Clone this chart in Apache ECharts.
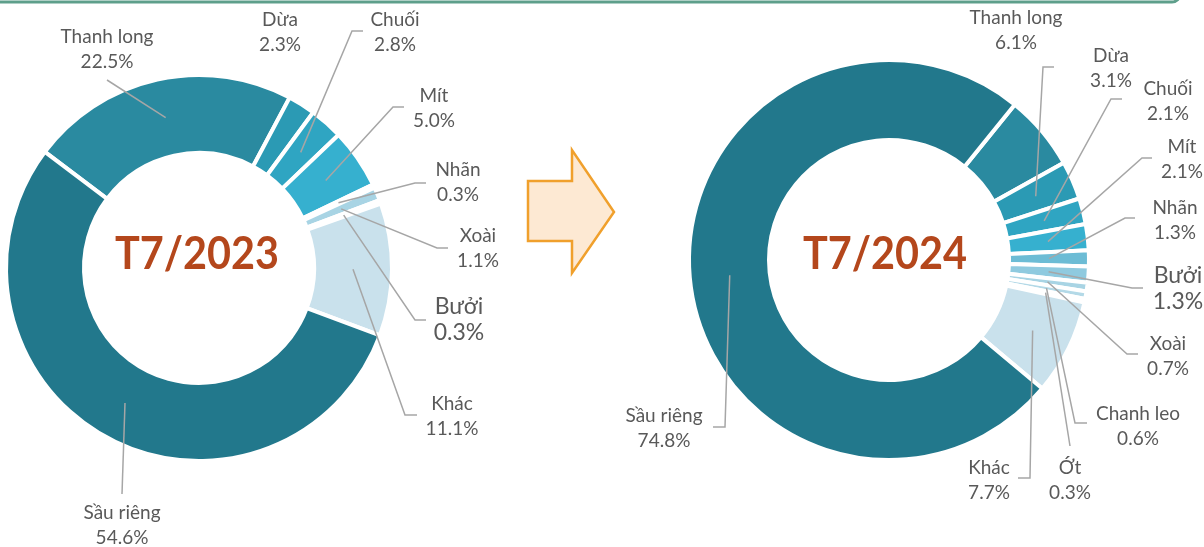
<!DOCTYPE html>
<html>
<head>
<meta charset="utf-8">
<script src="https://cdn.jsdelivr.net/npm/echarts@6/dist/echarts.min.js"></script>
<style>
  html, body { margin: 0; padding: 0; background: #ffffff; }
  #chart { width: 1204px; height: 547px; }
</style>
</head>
<body>
<div id="chart"></div>
<script>
// data
const periods = ['T7/2023', 'T7/2024'];
const names2023 = ['Thanh long', 'Dừa', 'Chuối', 'Mít', 'Nhãn', 'Xoài', 'Bưởi', 'Khác', 'Sầu riêng'];
const values2023 = [22.5, 2.3, 2.8, 5.0, 0.3, 1.1, 0.3, 11.1, 54.6];
const names2024 = ['Thanh long', 'Dừa', 'Chuối', 'Mít', 'Nhãn', 'Bưởi', 'Xoài', 'Chanh leo', 'Ớt', 'Khác', 'Sầu riêng'];
const values2024 = [6.1, 3.1, 2.1, 2.1, 1.3, 1.3, 0.7, 0.6, 0.3, 7.7, 74.8];

// colours per fruit
const colors = {
  'Sầu riêng': '#22788c',
  'Thanh long': '#2a8aa0',
  'Dừa': '#2b9ab4',
  'Chuối': '#2fa5c2',
  'Mít': '#36b0cf',
  'Nhãn': '#6cbcd5',
  'Bưởi': '#8fcadf',
  'Xoài': '#a8d4e4',
  'Chanh leo': '#b3d9e7',
  'Ớt': '#bddeea',
  'Khác': '#c9e1ec'
};

// donut geometry (radius padded by half the white border)
const geo = [
  { center: [199, 268], r0: 115, r: 193, start: -217 },
  { center: [889, 260], r0: 120, r: 200, start: 51 }
];

// label placement: centre of the text block, and the leader's bend / end
const labelPos = [
  {
    'Thanh long': { at: [107, 49], line: [[107, 80]] },
    'Dừa': { at: [280, 32] },
    'Chuối': { at: [395, 32], line: [[352, 31], [363, 31]] },
    'Mít': { at: [434, 108], line: [[393, 107], [404, 107]] },
    'Nhãn': { at: [458, 182], line: [[415, 183], [426, 183]] },
    'Xoài': { at: [478, 248], line: [[437, 248], [448, 248]] },
    'Bưởi': { at: [459, 320], line: [[415, 320], [426, 320]], big: true },
    'Khác': { at: [452, 416], line: [[405, 415], [417, 415]] },
    'Sầu riêng': { at: [122, 525], line: [[122, 494]] }
  },
  {
    'Thanh long': { at: [1016, 30] },
    'Dừa': { at: [1111, 68], line: [[1043, 67], [1054, 67]] },
    'Chuối': { at: [1168, 101], line: [[1111, 99], [1122, 99]] },
    'Mít': { at: [1182, 159], line: [[1142, 158], [1152, 158]] },
    'Nhãn': { at: [1175, 220], line: [[1125, 218], [1135, 218]] },
    'Bưởi': { at: [1178, 289], line: [[1132, 288], [1143, 288]], big: true },
    'Xoài': { at: [1168, 356], line: [[1127, 354], [1138, 354]] },
    'Chanh leo': { at: [1138, 426], line: [[1075, 423], [1087, 423]] },
    'Ớt': { at: [1070, 480], line: [[1070, 446]] },
    'Khác': { at: [989, 480], line: [[1030, 478], [1018, 478]] },
    'Sầu riêng': { at: [664, 428], line: [[725, 427], [713, 427]] }
  }
];

let chart;

// the coloured ring
function donut(names, values, g) {
  return {
    type: 'pie',
    z: 2,
    center: g.center,
    radius: [g.r0, g.r],
    startAngle: g.start,
    clockwise: true,
    silent: true,
    emphasis: { disabled: true },
    itemStyle: { borderColor: '#ffffff', borderWidth: 4 },
    label: { show: false },
    labelLine: { show: false },
    data: names.map(function (n, i) {
      return { name: n, value: values[i], itemStyle: { color: colors[n] } };
    })
  };
}

// same ring, see-through, drawn on top: carries labels and leader lines
function labels(names, values, g, pos) {
  return {
    type: 'pie',
    z: 5,
    center: g.center,
    radius: [g.r0, g.r],
    startAngle: g.start,
    clockwise: true,
    silent: true,
    avoidLabelOverlap: false,
    emphasis: { disabled: true },
    itemStyle: { color: 'rgba(0,0,0,0)', borderWidth: 0 },
    label: {
      show: true,
      position: 'outside',
      color: '#595959',
      fontFamily: 'Lato',
      fontSize: 19,
      lineHeight: 25,
      align: 'center',
      formatter: function (p) {
        return p.name + '\n' + p.value.toFixed(1) + '%';
      }
    },
    labelLine: {
      show: true,
      length: 10,
      length2: 10,
      lineStyle: { color: '#a6a6a6', width: 1.5 }
    },
    labelLayout: function (p) {
      const d = pos[names[p.dataIndex]];
      const out = { x: d.at[0], y: d.at[1], align: 'center', verticalAlign: 'middle' };
      if (d.line) {
        // leader starts in the middle of the ring, on the slice's mid angle
        const lay = chart.getModel().getSeriesByIndex(p.seriesIndex).getData().getItemLayout(p.dataIndex);
        const mid = (lay.startAngle + lay.endAngle) / 2;
        const rm = (lay.r0 + lay.r) / 2;
        const s = [lay.cx + rm * Math.cos(mid), lay.cy + rm * Math.sin(mid)];
        out.labelLinePoints = [s].concat(d.line);
      }
      return out;
    },
    data: names.map(function (n, i) {
      const d = pos[n];
      const item = { name: n, value: values[i] };
      if (d.big) item.label = { fontSize: 23, lineHeight: 26 };
      if (!d.line) item.labelLine = { show: false };
      return item;
    })
  };
}

chart = echarts.init(document.getElementById('chart'));
chart.setOption({
  animation: false,
  backgroundColor: '#ffffff',
  graphic: [
    {
      type: 'rect',
      shape: { x: -10, y: -40, width: 1190, height: 42, r: [0, 0, 8, 8] },
      style: { fill: 'none', stroke: '#5e9f8b', lineWidth: 3 }
    },
    {
      type: 'polygon',
      shape: { points: [[528, 181], [572, 181], [572, 150], [614, 212], [572, 273], [572, 241], [528, 241]] },
      style: { fill: '#fde9d3', stroke: '#f0a02c', lineWidth: 2.5, lineJoin: 'miter' }
    },
    {
      type: 'text', x: 197, y: 254, scaleX: 0.92,
      style: { text: periods[0], fill: '#b4471c', font: 'bold 45px Lato', align: 'center', verticalAlign: 'middle' }
    },
    {
      type: 'text', x: 885, y: 254, scaleX: 0.92,
      style: { text: periods[1], fill: '#b4471c', font: 'bold 45px Lato', align: 'center', verticalAlign: 'middle' }
    }
  ],
  series: [
    donut(names2023, values2023, geo[0]),
    donut(names2024, values2024, geo[1]),
    labels(names2023, values2023, geo[0], labelPos[0]),
    labels(names2024, values2024, geo[1], labelPos[1])
  ]
});
</script>
</body>
</html>
